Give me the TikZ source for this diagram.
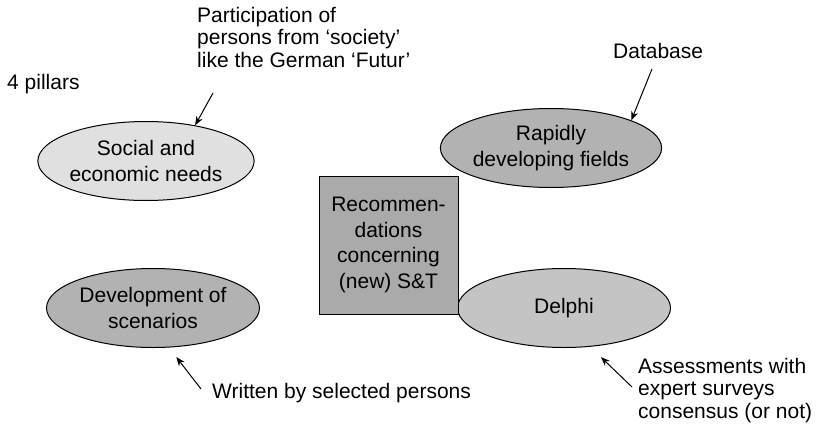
\documentclass[tikz,border=0pt]{standalone}
\usepackage{fontspec}
\setmainfont{Liberation Sans}
\usetikzlibrary{shapes.geometric,arrows.meta}
\definecolor{lightfill}{HTML}{E0E0E0}
\definecolor{midfill}{HTML}{B2B2B2}
\definecolor{boxfill}{HTML}{AAAAAA}
\definecolor{delphifill}{HTML}{C4C4C4}
\begin{document}
\begin{tikzpicture}[x=1pt,y=-1pt,
  every node/.style={font=\fontsize{21}{25.5}\selectfont},
  oval/.style={ellipse,draw=black,line width=1pt,minimum width=213pt,minimum height=79pt,inner sep=0pt,align=center},
  centerbox/.style={rectangle,draw=black,line width=1pt,fill=boxfill,minimum width=139pt,minimum height=138pt,inner sep=0pt,align=center},
  note/.style={inner sep=0pt,align=left,font=\fontsize{21}{22.5}\selectfont},
  pointer/.style={line width=1pt,-{Stealth[length=9pt,width=7pt]}}]
\useasboundingbox (0,0) rectangle (818,431);
\node[oval,fill=lightfill] (soc) at (146,161) {Social and\\economic needs};
\node[oval,fill=midfill] (rapid) at (551,148) {Rapidly\\developing fields};
\node[oval,fill=midfill] (dev) at (153,308) {Development of\\scenarios};
\node[oval,fill=delphifill] (delphi) at (564,308) {Delphi};
\node[centerbox] (rec) at (388.5,245) {Recommen-\\dations\\concerning\\(new) S\&T};
\node[note,anchor=base west] (pillars) at (7,89) {4 pillars};
\node[note,anchor=north west] (part) at (197,7) {Participation of\\persons from ‘society’\\like the German ‘Futur’};
\node[note,anchor=base west] (db) at (613,58) {Database};
\node[note,anchor=base west] (written) at (212,398) {Written by selected persons};
\node[note,anchor=north west] (assess) at (638,358) {Assessments with\\expert surveys\\consensus (or not)};
\coordinate (partT) at (213,93);
\coordinate (dbT) at (652,69);
\coordinate (writtenT) at (201,389);
\coordinate (assessT) at (632,387);
\draw[pointer] (partT) -- (soc.36);
\draw[pointer] (dbT) -- (rapid.19);
\draw[pointer,shorten >=12pt] (writtenT) -- (dev.-68);
\draw[pointer,shorten >=15pt] (assessT) -- (delphi.-56);
\end{tikzpicture}
\end{document}
